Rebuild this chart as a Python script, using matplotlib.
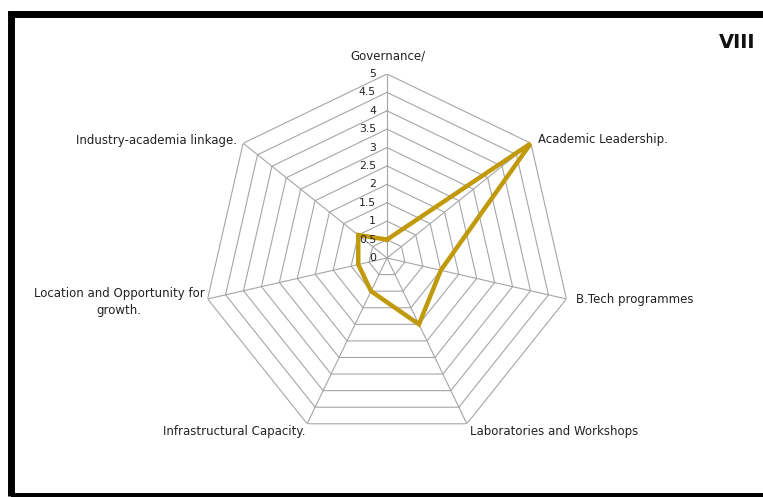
import numpy as np
import matplotlib
matplotlib.use("Agg")
from matplotlib import pyplot as plt
from matplotlib.patches import Rectangle

# categories, clockwise from the top
categories = ["Governance/", "Academic Leadership.", "B.Tech programmes",
              "Laboratories and Workshops", "Infrastructural Capacity.",
              "Location and Opportunity for\ngrowth.", "Industry-academia linkage."]
scores = [0.5, 5.0, 1.5, 2.0, 1.0, 0.8, 1.0]
levels = [0, 0.5, 1, 1.5, 2, 2.5, 3, 3.5, 4, 4.5, 5]
level_labels = ["0", "0.5", "1", "1.5", "2", "2.5", "3", "3.5", "4", "4.5", "5"]
panel = "VIII"

W, H = 763, 497
fig = plt.figure(figsize=(W / 100, H / 100), dpi=100)

# polar axes centred at (387, 258) px with radius 184 px
cx, cy, R = 387, 258, 184
ax = fig.add_axes([(cx - R) / W, (H - cy - R) / H, 2 * R / W, 2 * R / H], projection="polar")
ax.set_theta_zero_location("N")
ax.set_theta_direction(-1)
ax.set_ylim(0, 5)
ax.grid(False)
ax.set_xticks([])
ax.set_yticks([])
ax.spines["polar"].set_visible(False)
ax.patch.set_alpha(0)

n = len(categories)
theta = np.linspace(0, 2 * np.pi, n, endpoint=False)
theta_c = np.append(theta, theta[0])

# heptagon rings and spokes
for lv in levels[1:]:
    ax.plot(theta_c, [lv] * (n + 1), color="#a6a6a6", lw=0.8, zorder=1)
for t in theta:
    ax.plot([t, t], [0, 5], color="#a6a6a6", lw=0.8, zorder=1)

# data series
vals = np.append(scores, scores[0])
ax.plot(theta_c, vals, color="#c09a0a", lw=3.2, solid_joinstyle="miter", zorder=3)

# radial tick labels along the top spoke
for lv, lab in zip(levels, level_labels):
    ax.annotate(lab, xy=(0, lv), xytext=(-11, 0), textcoords="offset pixels",
                ha="right", va="center", fontsize=7.8, color="#222222", zorder=4)

# category labels
offsets = [(1, 18, "center", "center"), (7, 4, "left", "center"),
           (10, -1, "left", "center"), (3, -8, "left", "center"),
           (-2, -8, "right", "center"), (-3, -3, "right", "center"),
           (-6, 3, "right", "center")]
for t, lab, (dx, dy, ha, va) in zip(theta, categories, offsets):
    ax.annotate(lab, xy=(t, 5), xytext=(dx, dy), textcoords="offset pixels",
                ha=ha, va=va, multialignment="center", fontsize=8.5,
                color="#222222", linespacing=1.4)

fig.text(737 / W, 1 - 43 / H, panel, ha="center", va="center",
         fontsize=14, fontweight="bold", color="#111111")

# thick black frame (right side runs off the picture)
fig.add_artist(Rectangle((10.5 / W, (H - 495.5) / H), 1.0, (495.5 - 13.5) / H,
                         transform=fig.transFigure, fill=False,
                         edgecolor="black", linewidth=5.0))

fig.savefig("out.png", dpi=100)
